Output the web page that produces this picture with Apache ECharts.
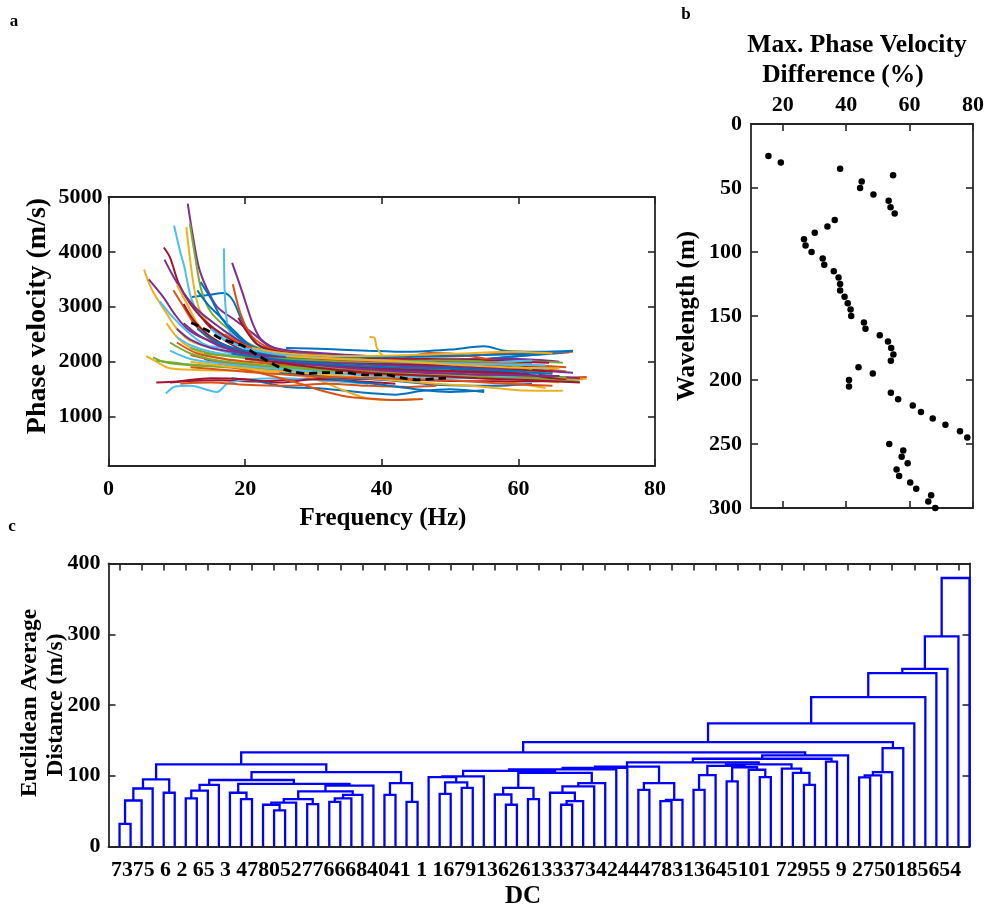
<!DOCTYPE html>
<html>
<head>
<meta charset="utf-8">
<script src="https://cdn.jsdelivr.net/npm/echarts@6/dist/echarts.min.js"></script>
<style>html,body{margin:0;padding:0;background:#fff}#main{width:987px;height:910px}</style>
</head>
<body>
<div id="main"></div>
<script>
// ---- panel a : dispersion curves [frequency Hz, phase velocity m/s]
var curves = [
 [[12.2,3180],[14.3,3210],[16.9,3250],[18.2,3120],[19.5,2760],[21.6,2330],[25,2150],[32,2080],[42,2050],[52,2020],[60,2100],[66.5,2170]],
 [[9.5,3300],[11,3000],[12.5,2700],[15,2400],[20,2120],[27,1980],[36,1920],[46,1850],[58,1760],[69.5,1680]],
 [[11.4,4450],[11.9,3900],[12.6,3300],[13.5,2900],[15.5,2600],[19,2350],[24,2100],[32,1900],[42,1800],[54,1740],[66,1620]],
 [[11.6,4880],[12.3,4330],[13.2,3730],[14.3,3360],[15.9,3000],[18.5,2760],[21.1,2520],[24,2250],[30,2080],[40,1960],[52,1880],[61,1820]],
 [[11.9,4520],[12.7,3900],[13.6,3300],[15,2900],[17.5,2600],[21,2300],[26,2080],[35,1960],[46,1880],[58,1780],[64,1700]],
 [[9.6,4480],[10.5,4000],[11.1,3730],[12.2,3120],[14,2750],[17,2450],[21,2200],[28,2080],[40,2040],[52,2000],[62,1960]],
 [[8.1,4080],[9,3900],[10.3,3420],[12,3050],[14.5,2700],[18,2400],[23,2120],[32,1980],[45,1900],[57,1820],[68,1700]],
 [[13,3300],[14.5,3050],[16.5,2800],[18.5,2550],[21,2280],[25,2120],[33,2020],[45,1980],[55,2050],[62,2120],[67.5,2170]],
 [[18.2,3410],[19.3,2880],[20.5,2550],[21.6,2390],[24,2230],[30,2150],[40,2100],[50,2100],[58,2150],[68,2180]],
 [[5.2,3680],[6.4,3300],[8.5,2880],[10,2600],[12,2380],[15,2250],[20,2100],[28,1920],[38,1820],[50,1760],[64,1520]],
 [[18.1,3800],[19.5,3300],[21.1,2700],[22.4,2400],[25,2230],[32,2150],[42,2080],[52,2050],[60,2050],[66,2000]],
 [[6.5,2080],[8,2000],[10,1960],[14,1920],[20,1880],[28,1820],[38,1850],[48,1820],[58,1720],[68,1660]],
 [[16.9,4060],[17,3300],[17.2,2900],[17.6,2580],[19,2400],[22,2220],[30,2120],[40,2080],[50,2050],[60,2000]],
 [[9,1620],[12,1650],[16,1660],[22,1640],[30,1700],[40,1680],[50,1650],[60,1640],[68,1650]],
 [[18,1700],[22,1640],[26,1540],[30,1520],[34,1480],[38,1430],[42,1400],[46,1470],[50,1500],[55,1450]],
 [[20,1950],[28,1880],[35,1850],[40,1900],[44,2080],[47,2160],[50,2150],[54,2080],[58,1980],[63,1880],[67,1820]],
 [[8.5,2700],[10,2450],[12,2250],[15,2100],[20,1980],[26,1850],[31,1650],[35,1450],[38,1330],[42,1300],[45,1320]],
 [[8.2,3860],[9.5,3550],[11,3250],[13,2950],[16,2650],[20,2320],[26,2100],[35,2000],[45,1960],[56,1900]],
 [[20,2050],[28,1920],[36,1880],[42,1900],[47,2050],[52,2000],[57,1950],[63,2000],[66.5,1980]],
 [[8.4,1420],[9.8,1550],[12,1560],[15.9,1450],[17.4,1600],[21,1680],[26,1700],[32,1650],[38,1600]],
 [[7,1620],[10,1640],[15,1700],[20,1680],[25,1620],[30,1680],[36,1650],[42,1600]],
 [[26,2250],[32,2230],[38,2200],[44,2180],[50,2220],[55,2280],[58,2200],[63,2180],[68,2200]],
 [[10,2350],[13,2150],[17,2050],[22,1980],[30,1880],[40,1820],[50,1800],[58,1720],[67,1700]],
 [[38.2,2450],[38.9,2440],[39.3,2250],[40.5,2080],[45,1980],[52,1920],[60,1850],[65,1800]],
 [[5.9,3500],[8,3180],[9.6,2880],[11.5,2600],[14,2420],[18,2250],[24,2100],[34,1980],[46,1920],[57,1860]],
 [[12,2250],[15,2150],[19,2080],[26,1980],[36,1950],[46,1900],[54,1880],[64,1790]],
 [[10,2450],[12,2300],[15,2180],[20,2080],[28,2000],[38,1960],[48,1920],[56,1880],[64.5,1850]],
 [[14,2750],[15.5,2550],[17.5,2350],[20,2200],[25,2080],[33,2000],[44,1960],[56,1920],[64,1900]],
 [[14,2050],[18,1950],[24,1850],[30,1760],[36,1700],[42,1650],[48,1580],[56,1560],[62,1600]],
 [[10.5,1600],[15,1620],[20,1580],[26,1560],[32,1600],[38,1560],[44,1540],[48,1560]],
 [[5.5,2100],[7,2000],[9,1880],[13,1850],[20,1830],[28,1800],[38,1760],[50,1720],[60,1700],[70,1690]],
 [[16,2300],[20,2180],[25,2080],[33,1980],[43,1920],[52,1900],[60,1860],[68,1800]],
 [[15,2020],[22,1920],[30,1860],[40,1800],[48,1740],[56,1700],[63,1680],[69,1640]],
 [[7.5,3100],[9.5,2800],[12,2500],[14,2320],[18,2150],[26,1980],[36,1900],[46,1850],[53,1800]],
 [[19,2800],[20.5,2500],[22,2300],[25,2180],[32,2100],[42,2060],[52,2040],[60,2000],[64.5,1980]],
 [[13.5,3450],[15,3150],[16.5,2800],[18.5,2500],[21,2280],[26,2100],[36,2000],[48,1920],[58,1850],[66,1900]],
 [[12,2120],[17,1980],[24,1880],[32,1800],[42,1760],[52,1720],[62,1700],[70,1720]],
 [[10,3400],[11.5,3050],[13,2700],[15,2450],[18,2250],[23,2080],[30,1980],[40,1920],[50,1860]],
 [[22,2150],[28,2000],[35,1900],[42,1850],[50,1820],[58,1780],[64,1740],[69,1700]],
 [[7,2020],[11,1960],[16,1920],[24,1880],[34,1830],[44,1760],[54,1720],[62,1700],[67,1720]],
 [[15,2280],[20,2200],[26,2150],[34,2040],[44,1980],[52,1960],[58,2000],[62,2020]],
 [[11,3050],[12.5,2750],[15,2450],[18,2250],[22,2120],[28,2020],[38,1960],[50,1940],[58,1880],[65,1820]],
 [[25,1800],[30,1740],[35,1650],[40,1580],[45,1500],[50,1450],[55,1480]],
 [[16,1950],[22,1800],[27,1640],[31,1480],[35,1360],[38,1330],[42,1300],[46,1320]],
 [[12,2000],[20,1880],[30,1780],[40,1680],[48,1600],[55,1540],[60,1480],[66.5,1470]],
 [[10,2600],[12,2400],[15,2250],[20,2150],[28,2020],[38,1950],[48,1900],[58,1860]],
 [[14,2150],[20,2080],[28,2040],[38,2000],[48,2020],[55,2000],[62,1860]],
 [[9,2200],[12,2050],[17,1960],[24,1880],[32,1800],[42,1720],[52,1700],[60,1740],[63,1780]],
 [[20,2060],[26,1980],[34,1920],[44,1860],[52,1820],[60,1780],[67,1660]],
 [[13,2600],[16,2350],[20,2200],[27,2100],[36,2080],[46,2100],[55,2120],[63,2150]],
 [[17,2500],[20,2300],[24,2150],[32,2050],[42,2000],[52,1980],[60,1950],[67,1900]],
 [[21,2250],[26,2150],[34,2100],[44,2120],[52,2150],[59,2180],[65,2150]],
 [[11,2700],[13,2500],[16,2300],[20,2150],[26,2000],[36,1880],[46,1800],[56,1760],[66,1740]],
 [[9,2350],[12,2150],[16,2020],[22,1940],[30,1880],[40,1780],[50,1740],[60,1690],[68,1640]],
 [[15,2600],[17,2400],[20,2250],[24,2150],[30,2080],[40,2020],[48,1980],[58,1950],[64,1930]],
 [[24,2000],[30,1900],[38,1800],[46,1750],[54,1700],[62,1660],[69,1620]],
 [[18,2150],[24,2050],[32,1960],[41,1900],[50,1870],[57,1840],[65,1780]],
 [[12,1900],[17,1850],[24,1780],[32,1720],[40,1700],[50,1660],[58,1600],[65,1560]],
 [[26,2100],[34,2050],[42,2010],[50,1950],[58,1900],[66,1880]]
];
var meanCurve = [[12.1,2710],[14.3,2580],[16.4,2420],[19.5,2300],[20.3,2240],[22.2,2090],[25.3,1880],[26.9,1820],[29,1780],[31.1,1800],[34.2,1800],[37.9,1760],[40.5,1760],[43.2,1700],[45.2,1670],[47.9,1690],[49.4,1700]];
var velTicks = [1000, 2000, 3000, 4000, 5000];

// ---- panel b : max phase velocity difference vs wavelength
var wavelength = [25,30,35,40,45,50,55,60,65,70,75,80,85,90,95,100,105,110,115,120,125,130,135,140,145,150,155,160,165,170,175,180,185,190,195,200,205,210,215,220,225,230,235,240,245,250,255,260,265,270,275,280,285,290,295,300];
var maxDiff = [15.5,19.4,38.1,54.8,44.9,44.4,48.6,53.4,54,55.3,36.4,34.1,30.1,26.7,27.2,29.1,32.6,33.1,36.1,37.6,38.1,38.1,39.5,40.5,41.4,41.6,45.6,46.1,50.6,53.2,54.2,54.9,54.1,43.9,48.4,40.9,40.9,54.1,56.4,61,63.6,67.3,71.3,75.9,78.2,53.6,58,57.5,59.4,55.9,56.7,60.2,62.1,66.8,65.9,68.1];
var diffTicks = [20, 40, 60, 80];

// ---- panel c : dendrogram, nodes are [left, right, height], leaves are positions 1..78
var dcLeafCount = 78;
var dcM1 = [[[[1,2,32],3,65],4,82],[5,6,76],95];
var dcX1 = [[[7,8,68],9,79],10,87];
var dcZ = [[[[14,[15,16,51],59],17,62],[18,19,60],67],[[[20,21,63],22,68],23,73],78];
var dcX2 = [[11,[12,13,67],76],[dcZ,24,86],88.6];
var dcM2 = [[dcX1,dcX2,94],[[25,26,73],[27,28,63],89.6],105];
var dcS1 = [[29,[[30,31,74.5],[32,33,83],90.5],98],34,99];
var dcS23 = [[[35,[36,37,59],73.5],[38,39,67],83],[[[40,[[41,42,59],43,64],76],44,85],45,89.6],104];
var dcR1 = [[[[dcS1,dcS23,107],46,109],47,111],[[48,49,80],[[50,51,64],52,66],89.6],113];
var dcR2 = [[[[53,54,80],55,101],[[56,57,92],[58,[59,60,98],108.5],112],114],[61,[62,[63,64,87],104],110],116];
var dcP = [[[dcR1,dcR2,119],[65,66,120],124],67,128.7];
var dcH = [[[[68,69,97.6],70,100.4],71,105],72,139];
var dcTree = [[[[[[[[[dcM1,dcM2,116],dcP,133],dcH,147.6],73,174],74,211],75,245],76,251],77,297],78,379.5];
var dcLabelText = '7375 6 2 65 3 4780527766684041 1 1679136261333734244478313645101 72955 9 2750185654';
var distTicks = [0, 100, 200, 300, 400];

var colors = ['#0072BD', '#D95319', '#EDB120', '#7E2F8E', '#77AC30', '#4DBEEE', '#A2142F'];
var serif = 'Liberation Serif';
var axisCol = '#262626';

var dendroLinks = [];
function place(node) {
    if (typeof node === 'number') return { x: node, h: 0 };
    var l = place(node[0]), r = place(node[1]), h = node[2];
    dendroLinks.push({ coords: [[l.x, l.h], [l.x, h], [r.x, h], [r.x, r.h]] });
    return { x: (l.x + r.x) / 2, h: h };
}
place(dcTree);

var oddLeaves = [];
for (var i = 1; i <= dcLeafCount; i += 2) oddLeaves.push(i);

function lbl(show, margin, custom) {
    var o = { show: show, margin: margin, fontFamily: serif, fontWeight: 'bold', fontSize: 22, color: '#000',
        formatter: function (v) { return String(v); } };
    if (custom) o.customValues = custom;
    return o;
}
function tick(show, custom) {
    var o = { show: show, inside: true, length: 7, lineStyle: { color: axisCol, width: 1.6 } };
    if (custom) o.customValues = custom;
    return o;
}
var line = { show: true, onZero: false, lineStyle: { color: axisCol, width: 1.8 } };

function txt(x, y, s, size, rot) {
    return { type: 'text', x: x, y: y, rotation: rot || 0, z: 10,
        style: { text: s, fontFamily: serif, fontWeight: 'bold', fontSize: size, fill: '#000', align: 'center', verticalAlign: 'middle' } };
}

var series = [];
curves.forEach(function (c, k) {
    series.push({ type: 'line', xAxisIndex: 0, yAxisIndex: 0, data: c, showSymbol: false, smooth: 0.3,
        lineStyle: { width: 2, color: colors[k % 7] }, itemStyle: { color: colors[k % 7] }, silent: true });
});
series.push({ type: 'line', xAxisIndex: 0, yAxisIndex: 0, data: meanCurve, showSymbol: false, smooth: 0.3, z: 5,
    lineStyle: { width: 2.8, color: '#000', type: [8, 5] }, silent: true });
series.push({ type: 'scatter', xAxisIndex: 2, yAxisIndex: 2, symbolSize: 6.5, itemStyle: { color: '#000', opacity: 1 },
    data: maxDiff.map(function (v, k) { return [v, wavelength[k]]; }) });
series.push({ type: 'lines', coordinateSystem: 'cartesian2d', xAxisIndex: 4, yAxisIndex: 4, polyline: true,
    lineStyle: { color: '#0000FF', width: 2.3, opacity: 1 }, data: dendroLinks, z: 3 });

var option = {
    backgroundColor: '#fff',
    animation: false,
    grid: [
        { left: 108.5, top: 197, width: 546.5, height: 269 },
        { left: 751, top: 124, width: 224, height: 384 },
        { left: 108.5, top: 563.5, width: 861, height: 283 }
    ],
    xAxis: [
        { gridIndex: 0, type: 'value', position: 'bottom', min: 0, max: 80, interval: 20, axisLine: line, axisTick: tick(true), axisLabel: lbl(true, 12), splitLine: { show: false } },
        { gridIndex: 0, type: 'value', position: 'top', min: 0, max: 80, interval: 20, axisLine: line, axisTick: tick(true), axisLabel: lbl(false, 0), splitLine: { show: false } },
        { gridIndex: 1, type: 'value', position: 'top', min: 10, max: 80, axisLine: line, axisTick: tick(true, diffTicks), axisLabel: lbl(true, 8, diffTicks), splitLine: { show: false } },
        { gridIndex: 1, type: 'value', position: 'bottom', min: 10, max: 80, axisLine: line, axisTick: tick(true, diffTicks), axisLabel: lbl(false, 0), splitLine: { show: false } },
        { gridIndex: 2, type: 'value', position: 'bottom', min: 0, max: dcLeafCount, axisLine: line, axisTick: { show: false }, axisLabel: lbl(false, 0), splitLine: { show: false } },
        { gridIndex: 2, type: 'value', position: 'top', min: 0, max: dcLeafCount, axisLine: line, axisTick: tick(true, oddLeaves), axisLabel: lbl(false, 0), splitLine: { show: false } }
    ],
    yAxis: [
        { gridIndex: 0, type: 'value', position: 'left', min: 100, max: 5000, axisLine: line, axisTick: tick(true, velTicks), axisLabel: lbl(true, 6, velTicks), splitLine: { show: false } },
        { gridIndex: 0, type: 'value', position: 'right', min: 100, max: 5000, axisLine: line, axisTick: tick(true, velTicks), axisLabel: lbl(false, 0), splitLine: { show: false } },
        { gridIndex: 1, type: 'value', position: 'left', inverse: true, min: 0, max: 300, interval: 50, axisLine: line, axisTick: tick(true), axisLabel: lbl(true, 9), splitLine: { show: false } },
        { gridIndex: 1, type: 'value', position: 'right', inverse: true, min: 0, max: 300, interval: 50, axisLine: line, axisTick: tick(true), axisLabel: lbl(false, 0), splitLine: { show: false } },
        { gridIndex: 2, type: 'value', position: 'left', min: 0, max: 400, interval: 100, axisLine: line, axisTick: tick(true, distTicks), axisLabel: lbl(true, 8), splitLine: { show: false } },
        { gridIndex: 2, type: 'value', position: 'right', min: 0, max: 400, interval: 100, axisLine: line, axisTick: tick(true, distTicks), axisLabel: lbl(false, 0), splitLine: { show: false } }
    ],
    graphic: [
        txt(14, 22, 'a', 17),
        txt(686, 15, 'b', 17),
        txt(12, 527, 'c', 17),
        txt(38, 316, 'Phase velocity (m/s)', 28, Math.PI / 2),
        txt(383, 519, 'Frequency (Hz)', 25),
        txt(857, 45, 'Max. Phase Velocity', 25.5),
        txt(843, 75, 'Difference (%)', 25.5),
        txt(688, 316, 'Wavelength (m)', 25, Math.PI / 2),
        txt(30, 703, 'Euclidean Average', 23.5, Math.PI / 2),
        txt(56, 705, 'Distance (m/s)', 23.5, Math.PI / 2),
        txt(523, 897, 'DC', 25),
        { type: 'text', x: 111, y: 870, z: 10,
          style: { text: dcLabelText, fontFamily: serif, fontWeight: 'bold', fontSize: 21.8, fill: '#000', align: 'left', verticalAlign: 'middle' } }
    ],
    series: series
};

var myChart = echarts.init(document.getElementById('main'));
myChart.setOption(option);
</script>
</body>
</html>
